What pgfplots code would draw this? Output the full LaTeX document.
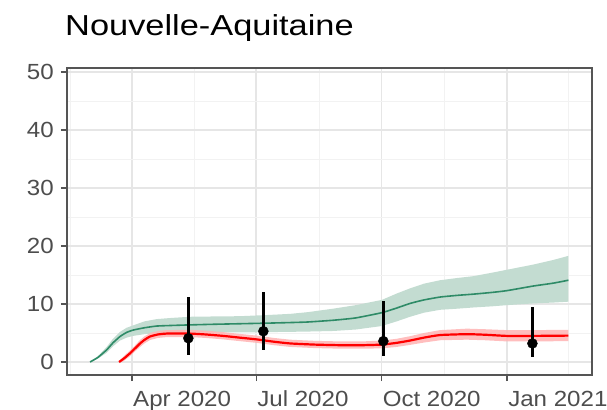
\documentclass[border=0pt]{standalone}
\usepackage{fontspec}
\setmainfont[FakeStretch=1.1]{Liberation Sans}
\newfontfamily\titlefont[FakeStretch=1.19]{Liberation Sans}
\usepackage{pgfplots}
\usepackage{pgfplotstable}
\usepgfplotslibrary{fillbetween}
\pgfplotsset{compat=1.18}
\definecolor{gline}{HTML}{2E8B67}
\definecolor{gfill}{HTML}{C3DCD1}
\definecolor{rfill}{HTML}{FFB3B3}
\definecolor{gridA}{HTML}{E6E6E6}
\definecolor{gridB}{HTML}{F2F2F2}
\definecolor{txt}{HTML}{4D4D4D}
\definecolor{frm}{HTML}{555555}

\pgfplotstableread{
x y lo hi
60.2 0 0 0
66 0.8 0.6 1.0
72.4 2.1 1.6 2.6
77 3.3 2.7 4.0
82.2 4.4 3.7 5.2
87 5.1 4.2 5.9
91.7 5.5 4.5 6.3
100 5.9 4.8 7.0
109.1 6.2 5.0 7.4
120 6.3 5.05 7.6
133.5 6.4 5.1 7.8
150 6.5 5.1 7.85
170.2 6.6 5.1 7.9
190 6.7 5.15 8.1
206.9 6.8 5.2 8.3
220 6.9 5.25 8.6
238.6 7.2 5.35 9.2
255 7.6 5.6 9.8
274.1 8.5 6.2 10.7
285 9.3 7.0 11.8
294.9 10.1 7.8 12.7
305 10.7 8.5 13.5
316.9 11.2 9.0 14.1
330 11.5 9.2 14.5
341.3 11.7 9.4 14.8
355 12.0 9.6 15.4
365.8 12.3 9.8 15.9
385.3 13.1 10.1 16.8
400 13.6 10.25 17.6
411 14.1 10.4 18.3
}\green

\pgfplotstableread{
x y lo hi
81.5 0 -0.2 0.2
85 0.6 0.2 1.0
89.5 1.5 1.0 2.0
93 2.3 1.8 2.8
96.9 3.2 2.6 3.8
100 3.8 3.2 4.4
104.2 4.4 3.8 5.0
110 4.75 4.15 5.35
116.4 4.9 4.3 5.5
133.5 4.9 4.3 5.55
145 4.75 4.15 5.4
157.9 4.5 3.9 5.15
170 4.2 3.6 4.85
182.4 3.9 3.3 4.55
195 3.5 2.9 4.15
206.9 3.2 2.6 3.85
225 3.0 2.4 3.65
243.5 2.9 2.3 3.55
260 2.9 2.3 3.55
274.1 3.0 2.35 3.7
285 3.3 2.6 4.0
294.9 3.7 2.95 4.45
305 4.2 3.35 5.0
316.9 4.65 3.75 5.5
336.5 4.8 3.85 5.75
350 4.7 3.75 5.65
365.8 4.5 3.55 5.5
385 4.5 3.55 5.5
411 4.55 3.6 5.55
}\red

\begin{document}
\begin{tikzpicture}
\begin{axis}[
  at={(0,0)}, anchor=south west,
  scale only axis, width=525bp, height=307bp,
  xmin=43.3, xmax=428.3, ymin=-2.24, ymax=50.69,
  xtick={91,182,274,366},
  xticklabels={Apr 2020, Jul 2020, Oct 2020, Jan 2021},
  minor xtick={45.5,136.5,228,320,411},
  ytick={0,10,20,30,40,50},
  minor ytick={5,15,25,35,45},
  grid=both,
  major grid style={gridA, line width=1.3bp},
  minor grid style={gridB, line width=0.7bp},
  tick align=outside, xtick pos=left, ytick pos=left,
  major tick length=6bp, minor tick length=0pt,
  every tick/.style={frm, line width=1.2bp},
  axis line style={frm, line width=1.3bp},
  tick label style={font=\fontsize{22}{24}\selectfont, text=txt},
  xticklabel style={anchor=north west, inner sep=0pt, yshift=-9.7bp, xshift=1bp},
  yticklabel style={anchor=east, inner sep=0pt, xshift=-7bp},
  /pgf/number format/assume math mode=true,
]
\addplot[name path=gu, draw=none, forget plot] table[x=x, y=hi] {\green};
\addplot[name path=gl, draw=none, forget plot] table[x=x, y=lo] {\green};
\addplot[gfill, forget plot] fill between[of=gu and gl];
\addplot[name path=ru, draw=none, forget plot] table[x=x, y=hi] {\red};
\addplot[name path=rl, draw=none, forget plot] table[x=x, y=lo] {\red};
\addplot[rfill, fill opacity=0.85, forget plot] fill between[of=ru and rl];
\addplot[gline, line width=1.6bp, smooth, tension=0.3] table[x=x, y=y] {\green};
\addplot[red, line width=2.2bp, smooth, tension=0.3] table[x=x, y=y] {\red};
\addplot[black, mark=*, mark size=5bp, only marks,
  error bars/.cd, y dir=both, y explicit, error mark=none,
  error bar style={line width=2.5bp, black}]
  coordinates {
    (132.3,4.1) += (0,7.1) -= (0,2.9)
    (187.3,5.3) += (0,6.7) -= (0,3.2)
    (275.3,3.6) += (0,7.0) -= (0,2.5)
    (384.6,3.2) += (0,6.2) -= (0,2.3)
  };
\end{axis}
\node[anchor=base west, inner sep=0pt] at (-2bp,339.3bp) {\titlefont\fontsize{29}{32}\selectfont Nouvelle-Aquitaine};
\pgfresetboundingbox
\path[use as bounding box] (-67bp,-35bp) rectangle (540bp,375bp);
\end{tikzpicture}
\end{document}
